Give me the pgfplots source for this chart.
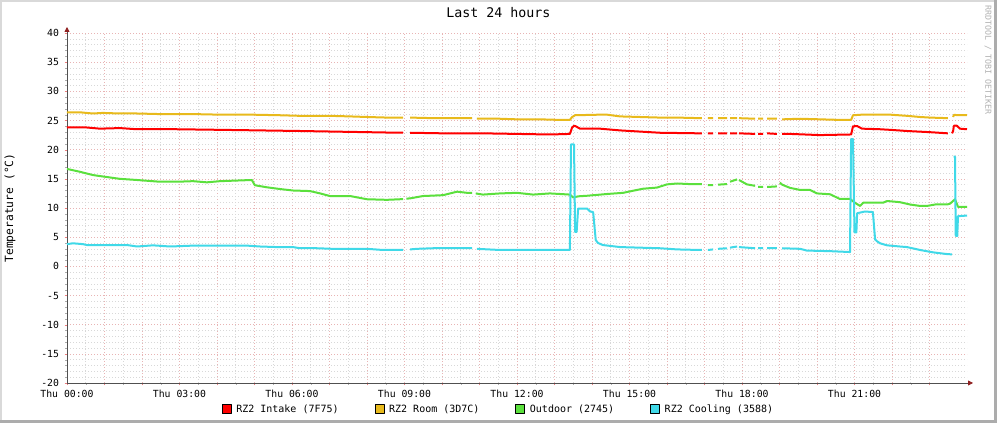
\documentclass[border=0pt]{standalone}
\usepackage{fontspec}
\setmainfont{DejaVu Sans Mono}
\usepackage{pgfplots}
\pgfplotsset{compat=1.18}
\usetikzlibrary{arrows.meta}
\definecolor{cIntake}{HTML}{FF0000}
\definecolor{cRoom}{HTML}{E8BA1C}
\definecolor{cOut}{HTML}{5BE03D}
\definecolor{cCool}{HTML}{40D9E8}
\definecolor{mgrid}{HTML}{E8B4B4}
\definecolor{ngrid}{HTML}{D8D8D8}
\definecolor{axcol}{HTML}{505050}
\definecolor{arrcol}{HTML}{902020}
\begin{document}
\begin{tikzpicture}
\useasboundingbox (0,0) rectangle (997pt,423pt);
\fill[white] (0,0) rectangle (997pt,423pt);
\fill[gray!30] (0,0) rectangle (2pt,423pt);
\fill[gray!30] (0,421pt) rectangle (997pt,423pt);
\fill[gray!65] (0,0) rectangle (997pt,3pt);
\fill[gray!65] (994pt,0) rectangle (997pt,423pt);
\node[rotate=-90, text=gray!60, font=\fontsize{8.3}{9}\selectfont] at (988pt,363pt) {RRDTOOL / TOBI OETIKER};
\begin{axis}[
  at={(67pt,40pt)}, anchor=south west,
  scale only axis, width=900pt, height=350pt,
  xmin=0, xmax=24, ymin=-20, ymax=40,
  axis lines=left,
  axis line style={draw=axcol, line width=0.8pt, -{Triangle[length=5pt,width=5pt,color=arrcol]}, shorten >=-6pt},
  xtick={0,1,...,23},
  xticklabels={Thu 00:00,,,Thu 03:00,,,Thu 06:00,,,Thu 09:00,,,Thu 12:00,,,Thu 15:00,,,Thu 18:00,,,Thu 21:00,,},
  minor x tick num=1,
  ytick={-20,-15,...,40},
  yticklabels={-20,-15,-10,-5,0,5,10,15,20,25,30,35,40},
  minor y tick num=4,
  grid=both,
  major grid style={draw=mgrid, dash pattern=on 1pt off 2pt, line width=0.6pt},
  minor grid style={draw=ngrid, dash pattern=on 1pt off 2pt, line width=0.6pt},
  tick align=outside,
  major tick length=2.5pt, minor tick length=2pt,
  every major tick/.append style={draw=mgrid!70!red},
  every minor tick/.append style={draw=ngrid!80!black},
  ticklabel style={font=\fontsize{9.8}{11}\selectfont, text=black},
  xticklabel style={anchor=base, yshift=-12pt},
  yticklabel style={anchor=east, xshift=-2pt},
  ylabel={Temperature (°C)},
  ylabel style={at={(axis description cs:-0.0633,0.5)}, anchor=center, font=\fontsize{11.3}{12}\selectfont},
  title={Last 24 hours},
  title style={at={(axis description cs:0.4794,1.0272)}, anchor=base, yshift=0pt, font=\fontsize{13.3}{14}\selectfont},
  unbounded coords=jump,
  legend columns=4,
  legend image code/.code={\draw[#1, draw=black, line width=0.5pt, solid] (0pt,-4.5pt) rectangle (9pt,4.5pt);},
  legend style={at={(axis description cs:0.4794,-0.0743)}, anchor=center, draw=none, fill=none,
    font=\fontsize{10}{12}\selectfont,
    /tikz/every odd column/.append style={column sep=3pt},
    /tikz/every even column/.append style={column sep=34pt}},
  every axis plot/.append style={line width=2pt, line join=round},
]
\addplot[cIntake, forget plot] coordinates {
(0,23.8)(0.53,23.8)(0.88,23.6)(1.41,23.7)(1.87,23.5)(2.93,23.5)(4.08,23.4)(5.15,23.3)(6.21,23.2)(7.09,23.1)(8.0,23.0)(8.88,22.9)(8.96,22.9)(9.0,nan)(9.15,22.9)(10.03,22.8)(11.09,22.8)(12.0,22.7)(12.88,22.6)(13.41,22.7)(13.47,23.8)(13.52,24.1)(13.57,24.0)(13.68,23.6)(14.21,23.6)(14.75,23.3)(15.28,23.1)(15.81,22.9)(16.88,22.8)(16.93,22.8)(17.0,nan)(17.09,22.8)(17.23,22.8)(17.3,nan)(17.36,22.8)(17.6,22.8)(17.64,nan)(17.68,22.8)(17.87,22.8)(17.9,nan)(17.92,22.8)(18.35,22.7)(18.4,nan)(18.43,22.7)(18.56,22.7)(18.6,nan)(18.67,22.8)(18.93,22.7)(19.0,nan)(19.07,22.7)(19.28,22.7)(20.08,22.5)(20.88,22.6)(20.91,22.6)(20.96,24.0)(21.07,24.05)(21.2,23.6)(21.68,23.5)(21.95,23.4)(22.4,23.2)(23.01,23.0)(23.49,22.8)(23.55,nan)(23.6,22.8)(23.63,23.2)(23.65,24.1)(23.73,24.1)(23.81,23.6)(24.0,23.5)
};
\addplot[cRoom, forget plot] coordinates {
(0,26.4)(0.35,26.4)(0.69,26.2)(0.96,26.3)(1.41,26.2)(1.87,26.2)(2.48,26.1)(3.36,26.1)(4.08,26.0)(4.93,26.0)(5.68,25.9)(6.21,25.8)(7.01,25.8)(7.55,25.7)(8.0,25.6)(8.53,25.5)(8.96,25.5)(9.0,nan)(9.15,25.5)(9.76,25.4)(10.4,25.4)(10.8,25.4)(10.85,nan)(10.93,25.3)(11.55,25.3)(12.0,25.2)(12.61,25.2)(13.15,25.1)(13.41,25.1)(13.47,25.6)(13.55,25.9)(14.21,26.0)(14.4,26.0)(14.75,25.7)(15.28,25.6)(15.81,25.5)(16.27,25.5)(16.88,25.4)(16.93,25.4)(17.0,nan)(17.09,25.4)(17.23,25.4)(17.3,nan)(17.36,25.4)(17.6,25.4)(17.64,nan)(17.68,25.4)(17.87,25.4)(17.9,nan)(17.92,25.4)(18.35,25.3)(18.4,nan)(18.43,25.3)(18.56,25.3)(18.6,nan)(18.67,25.3)(18.93,25.3)(19.0,nan)(19.07,25.2)(19.55,25.3)(20.08,25.2)(20.61,25.1)(20.91,25.1)(20.96,25.9)(21.2,26.0)(21.95,26.0)(22.4,25.8)(22.75,25.6)(23.01,25.5)(23.49,25.4)(23.55,nan)(23.63,25.6)(23.65,25.95)(24.0,25.9)
};
\addplot[cOut, forget plot] coordinates {
(0,16.7)(0.35,16.2)(0.69,15.65)(0.96,15.4)(1.41,15.0)(1.87,14.8)(2.48,14.5)(2.93,14.5)(3.36,14.6)(3.73,14.4)(4.08,14.6)(4.93,14.8)(5.01,13.9)(5.33,13.55)(5.68,13.25)(6.03,13.0)(6.48,12.9)(6.75,12.5)(7.01,12.05)(7.55,12.05)(8.0,11.5)(8.53,11.4)(8.88,11.5)(8.96,11.5)(9.0,nan)(9.05,11.6)(9.15,11.65)(9.49,12.05)(10.03,12.2)(10.4,12.8)(10.67,12.6)(10.8,12.6)(10.85,nan)(10.9,12.5)(11.09,12.3)(11.55,12.5)(12.0,12.6)(12.43,12.3)(12.88,12.5)(13.41,12.3)(13.5,11.8)(13.63,12.0)(13.87,12.1)(14.4,12.4)(14.83,12.6)(15.09,12.95)(15.36,13.3)(15.73,13.5)(16.0,14.05)(16.27,14.2)(16.61,14.1)(16.93,14.1)(17.0,nan)(17.09,13.9)(17.23,13.9)(17.3,nan)(17.36,14.0)(17.6,14.1)(17.64,nan)(17.68,14.5)(17.87,14.9)(17.9,nan)(17.92,14.8)(18.13,14.05)(18.35,13.8)(18.4,nan)(18.43,13.6)(18.56,13.6)(18.6,nan)(18.67,13.6)(18.93,13.7)(18.97,nan)(19.01,14.35)(19.07,14.0)(19.28,13.45)(19.55,13.1)(19.81,13.1)(20.0,12.5)(20.35,12.35)(20.48,11.95)(20.61,11.55)(20.88,11.55)(21.01,10.9)(21.15,10.35)(21.23,10.9)(21.76,10.9)(21.87,11.2)(22.21,11.0)(22.48,10.6)(22.75,10.35)(22.93,10.35)(23.15,10.6)(23.47,10.6)(23.55,10.75)(23.68,11.5)(23.76,10.2)(24.0,10.2)
};
\addplot[cCool, forget plot] coordinates {
(0,3.8)(0.16,3.95)(0.43,3.8)(0.53,3.65)(1.6,3.65)(1.87,3.4)(2.29,3.6)(2.75,3.4)(3.36,3.55)(4.8,3.55)(5.15,3.4)(5.6,3.3)(6.03,3.3)(6.21,3.1)(6.67,3.1)(7.09,3.0)(8.0,3.0)(8.43,2.8)(8.88,2.8)(8.96,2.8)(9.0,nan)(9.15,2.9)(9.33,3.0)(9.76,3.1)(10.67,3.1)(10.8,3.1)(10.85,nan)(10.93,3.0)(11.55,2.8)(12.43,2.8)(13.41,2.8)(13.44,20.9)(13.52,20.9)(13.55,5.9)(13.59,5.9)(13.63,9.9)(13.87,9.9)(13.95,9.4)(14.03,9.3)(14.1,4.5)(14.16,4.0)(14.29,3.65)(14.75,3.3)(15.28,3.2)(15.81,3.1)(16.27,2.9)(16.88,2.8)(16.93,2.8)(17.0,nan)(17.09,2.8)(17.23,2.9)(17.3,nan)(17.36,3.0)(17.6,3.1)(17.64,nan)(17.68,3.2)(17.87,3.4)(17.9,nan)(17.92,3.3)(18.35,3.1)(18.4,nan)(18.43,3.1)(18.56,3.1)(18.6,nan)(18.67,3.1)(18.93,3.1)(19.0,nan)(19.07,3.1)(19.55,3.0)(19.73,2.7)(20.35,2.6)(20.88,2.45)(20.91,21.8)(20.96,21.8)(21.0,5.8)(21.05,5.8)(21.07,9.1)(21.28,9.4)(21.49,9.3)(21.55,4.6)(21.6,4.3)(21.68,3.95)(21.87,3.6)(22.21,3.4)(22.4,3.3)(22.75,2.8)(23.09,2.4)(23.47,2.1)(23.6,2.05)(23.62,nan)(23.64,18.8)(23.68,18.8)(23.7,5.2)(23.74,5.2)(23.76,8.6)(24.0,8.7)
};
\addlegendimage{fill=cIntake}\addlegendentry{RZ2 Intake (7F75)}
\addlegendimage{fill=cRoom}\addlegendentry{RZ2 Room (3D7C)}
\addlegendimage{fill=cOut}\addlegendentry{Outdoor (2745)}
\addlegendimage{fill=cCool}\addlegendentry{RZ2 Cooling (3588)}
\end{axis}
\end{tikzpicture}
\end{document}
